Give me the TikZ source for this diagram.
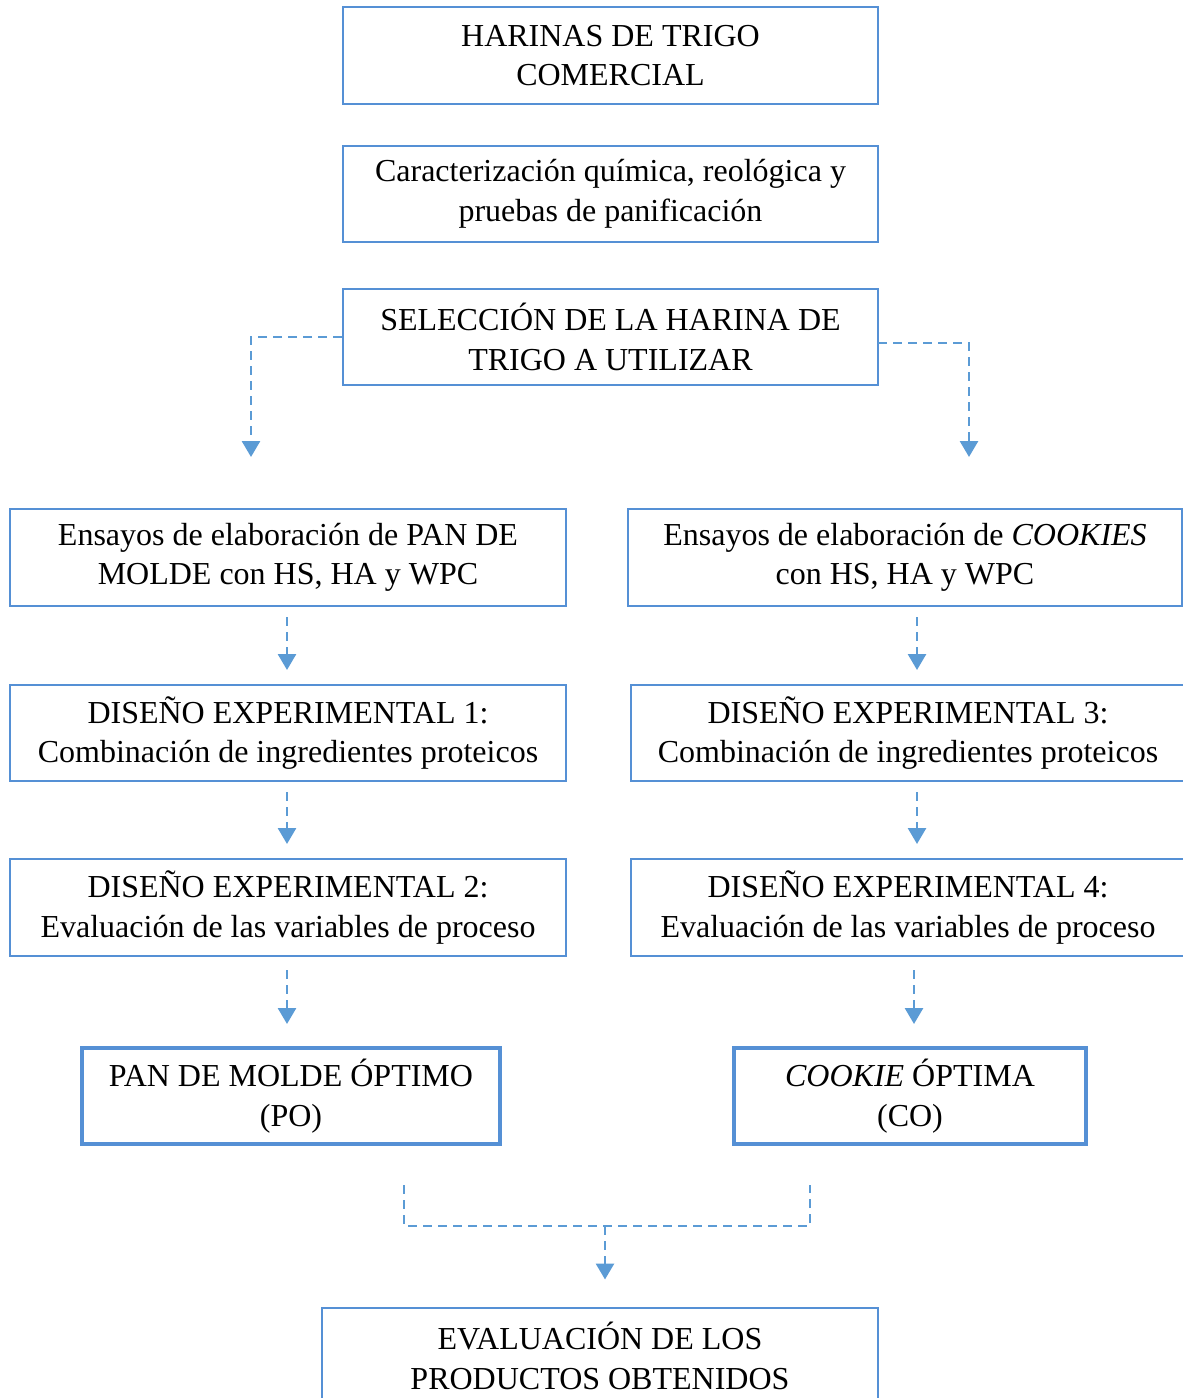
\documentclass[tikz,border=0pt]{standalone}
\usepackage{fontspec}
\setmainfont{Liberation Serif}
\usetikzlibrary{arrows.meta}
\definecolor{boxblue}{HTML}{5590D5}
\definecolor{arrblue}{HTML}{5B9BD5}
\tikzset{
  box/.style={draw=boxblue, line width=1pt, rectangle, inner sep=0pt, align=center,
    font=\fontsize{16}{19.75}\selectfont},
  thickbox/.style={box, line width=2pt},
  dline/.style={draw=arrblue, line width=1.4pt, dash pattern=on 4.5pt off 3pt},
  arr/.style={dline, -{Triangle[width=9pt,length=8pt]}},
}
\begin{document}
\begin{tikzpicture}[x=0.5pt,y=-0.5pt]
\useasboundingbox (0,0) rectangle (1183,1398);
\clip (0,0) rectangle (1183,1398);
\node[box, minimum width=267.5pt, minimum height=48.5pt] (A) at (610.5,55.5) {HARINAS DE TRIGO\\COMERCIAL};
\node[box, minimum width=267.5pt, minimum height=48pt] (B) at (610.5,194) {Caracterización química, reológica y\\pruebas de panificación};
\node[box, minimum width=267.5pt, minimum height=48pt] (C) at (610.5,337) {SELECCIÓN DE LA HARINA DE\\TRIGO A UTILIZAR};
\node[box, minimum width=278pt, minimum height=48.5pt] (D) at (288,557.5) {Ensayos de elaboración de PAN DE\\MOLDE con HS, HA y WPC};
\node[box, minimum width=277pt, minimum height=48.5pt] (E) at (905,557.5) {Ensayos de elaboración de \textit{COOKIES}\\con HS, HA y WPC};
\node[box, minimum width=278pt, minimum height=48pt] (F) at (288,733) {DISEÑO EXPERIMENTAL 1:\\Combinación de ingredientes proteicos};
\node[box, minimum width=277pt, minimum height=48pt] (G) at (908,733) {DISEÑO EXPERIMENTAL 3:\\Combinación de ingredientes proteicos};
\node[box, minimum width=278pt, minimum height=48.5pt] (H) at (288,907.5) {DISEÑO EXPERIMENTAL 2:\\Evaluación de las variables de proceso};
\node[box, minimum width=277pt, minimum height=48.5pt] (I) at (908,907.5) {DISEÑO EXPERIMENTAL 4:\\Evaluación de las variables de proceso};
\node[thickbox, minimum width=209pt, minimum height=48pt] (J) at (291,1096) {PAN DE MOLDE ÓPTIMO\\(PO)};
\node[thickbox, minimum width=176pt, minimum height=48pt] (K) at (910,1096) {\textit{COOKIE} ÓPTIMA\\(CO)};
\node[box, minimum width=278pt, minimum height=48.5pt] (L) at (600,1356) {EVALUACIÓN DE LOS\\PRODUCTOS OBTENIDOS};
% top split
\coordinate (lt) at (251,457);
\coordinate (rt) at (969,457);
\coordinate (rs) at (878,343);
\draw[arr] (C.west) -| (lt);
\draw[arr] (rs) -| (rt);
% vertical arrows
\coordinate (xl) at (287,0);
\coordinate (xr) at (917,0);
\coordinate (xr2) at (914,0);
\draw[arr, shorten <=5pt, shorten >=7pt] (xl |- D.south) -- (xl |- F.north);
\draw[arr, shorten <=5pt, shorten >=7pt] (xl |- F.south) -- (xl |- H.north);
\draw[arr, shorten <=6.5pt, shorten >=11pt] (xl |- H.south) -- (xl |- J.north);
\draw[arr, shorten <=5pt, shorten >=7pt] (xr |- E.south) -- (xr |- G.north);
\draw[arr, shorten <=5pt, shorten >=7pt] (xr |- G.south) -- (xr |- I.north);
\draw[arr, shorten <=6.5pt, shorten >=11pt] (xr2 |- I.south) -- (xr2 |- K.north);
% bottom bracket
\coordinate (b1) at (404,1185);
\coordinate (b2) at (810,1185);
\coordinate (bj) at (605,1226);
\draw[dline] (b1) |- (bj) -| (b2);
\draw[arr, shorten >=13.5pt] (bj) -- (bj |- L.north);
\end{tikzpicture}
\end{document}
